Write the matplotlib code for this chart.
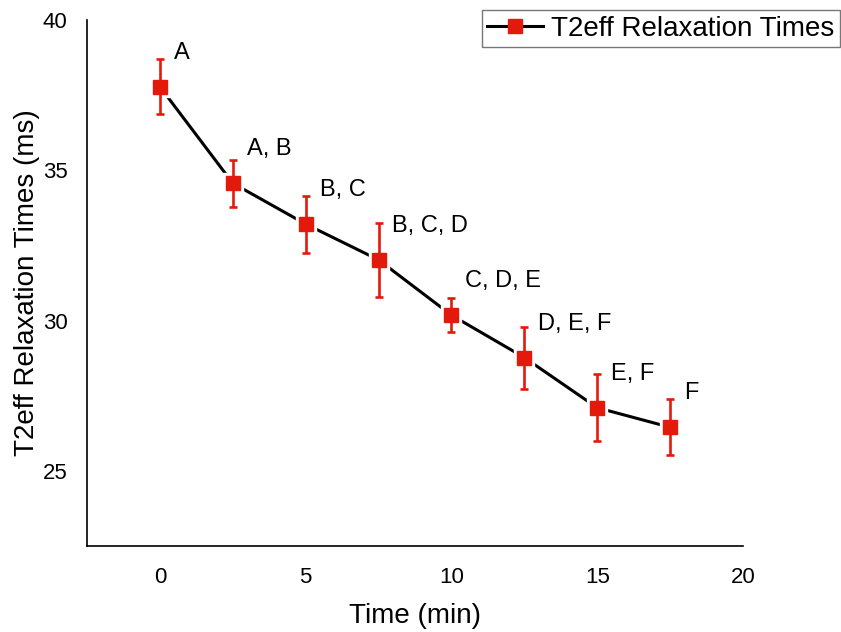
import matplotlib
matplotlib.use("Agg")
import matplotlib.pyplot as plt

time_min = [0, 2.5, 5, 7.5, 10, 12.5, 15, 17.5]
t2eff = [37.78, 34.57, 33.21, 32.02, 30.18, 28.77, 27.10, 26.45]
t2eff_err = [0.92, 0.78, 0.95, 1.22, 0.56, 1.03, 1.11, 0.93]
letters = ["A", "A, B", "B, C", "B, C, D", "C, D, E", "D, E, F", "E, F", "F"]

plt.rcParams["font.family"] = ["Liberation Sans", "DejaVu Sans"]
red = "#E31A0B"

fig = plt.figure(figsize=(8.41, 6.32), dpi=100)
ax = fig.add_axes([87 / 841, 1 - 546 / 632, (743 - 87) / 841, (546 - 20) / 632])

# line with small gaps around markers
ax.plot(time_min, t2eff, color="black", linewidth=2.2, zorder=1)
ax.plot(time_min, t2eff, linestyle="none", marker="s", markersize=15,
        color="white", zorder=2)
ax.errorbar(time_min, t2eff, yerr=t2eff_err, fmt="none", ecolor=red,
            elinewidth=1.9, capsize=3.2, capthick=1.9, zorder=3)
ax.plot(time_min, t2eff, linestyle="none", marker="s", markersize=10.5,
        color=red, zorder=4)

for xv, yv, lab in zip(time_min, t2eff, letters):
    ax.annotate(lab, (xv, yv), xytext=(10, 24.5), textcoords="offset points",
                ha="left", va="center", fontsize=17)

# legend proxy
h, = ax.plot([], [], color="black", linewidth=2.2, marker="s", markersize=10.5,
             markerfacecolor=red, markeredgecolor=red)
leg = fig.legend([h], ["T2eff Relaxation Times"], loc="upper right",
                 bbox_to_anchor=(840 / 841, 1 - 10 / 632), fontsize=20,
                 fancybox=False, framealpha=1, borderaxespad=0,
                 handlelength=2.0, handletextpad=0.3, borderpad=0.2)
leg.get_frame().set_edgecolor("#777777")
leg.get_frame().set_linewidth(1.0)

ax.set_xlim(-2.5, 20)
ax.set_ylim(22.5, 40)
ax.set_xticks([0, 5, 10, 15, 20])
ax.set_yticks([25, 30, 35, 40])
ax.tick_params(length=0, labelsize=16)
ax.tick_params(axis="y", pad=14)
ax.tick_params(axis="x", pad=15)
ax.spines["top"].set_visible(False)
ax.spines["right"].set_visible(False)
for s in ["left", "bottom"]:
    ax.spines[s].set_linewidth(1.2)

ax.set_xlabel("Time (min)", fontsize=20, labelpad=11)
ax.set_ylabel("T2eff Relaxation Times (ms)", fontsize=20, labelpad=2)

fig.savefig("out.png", dpi=100)
